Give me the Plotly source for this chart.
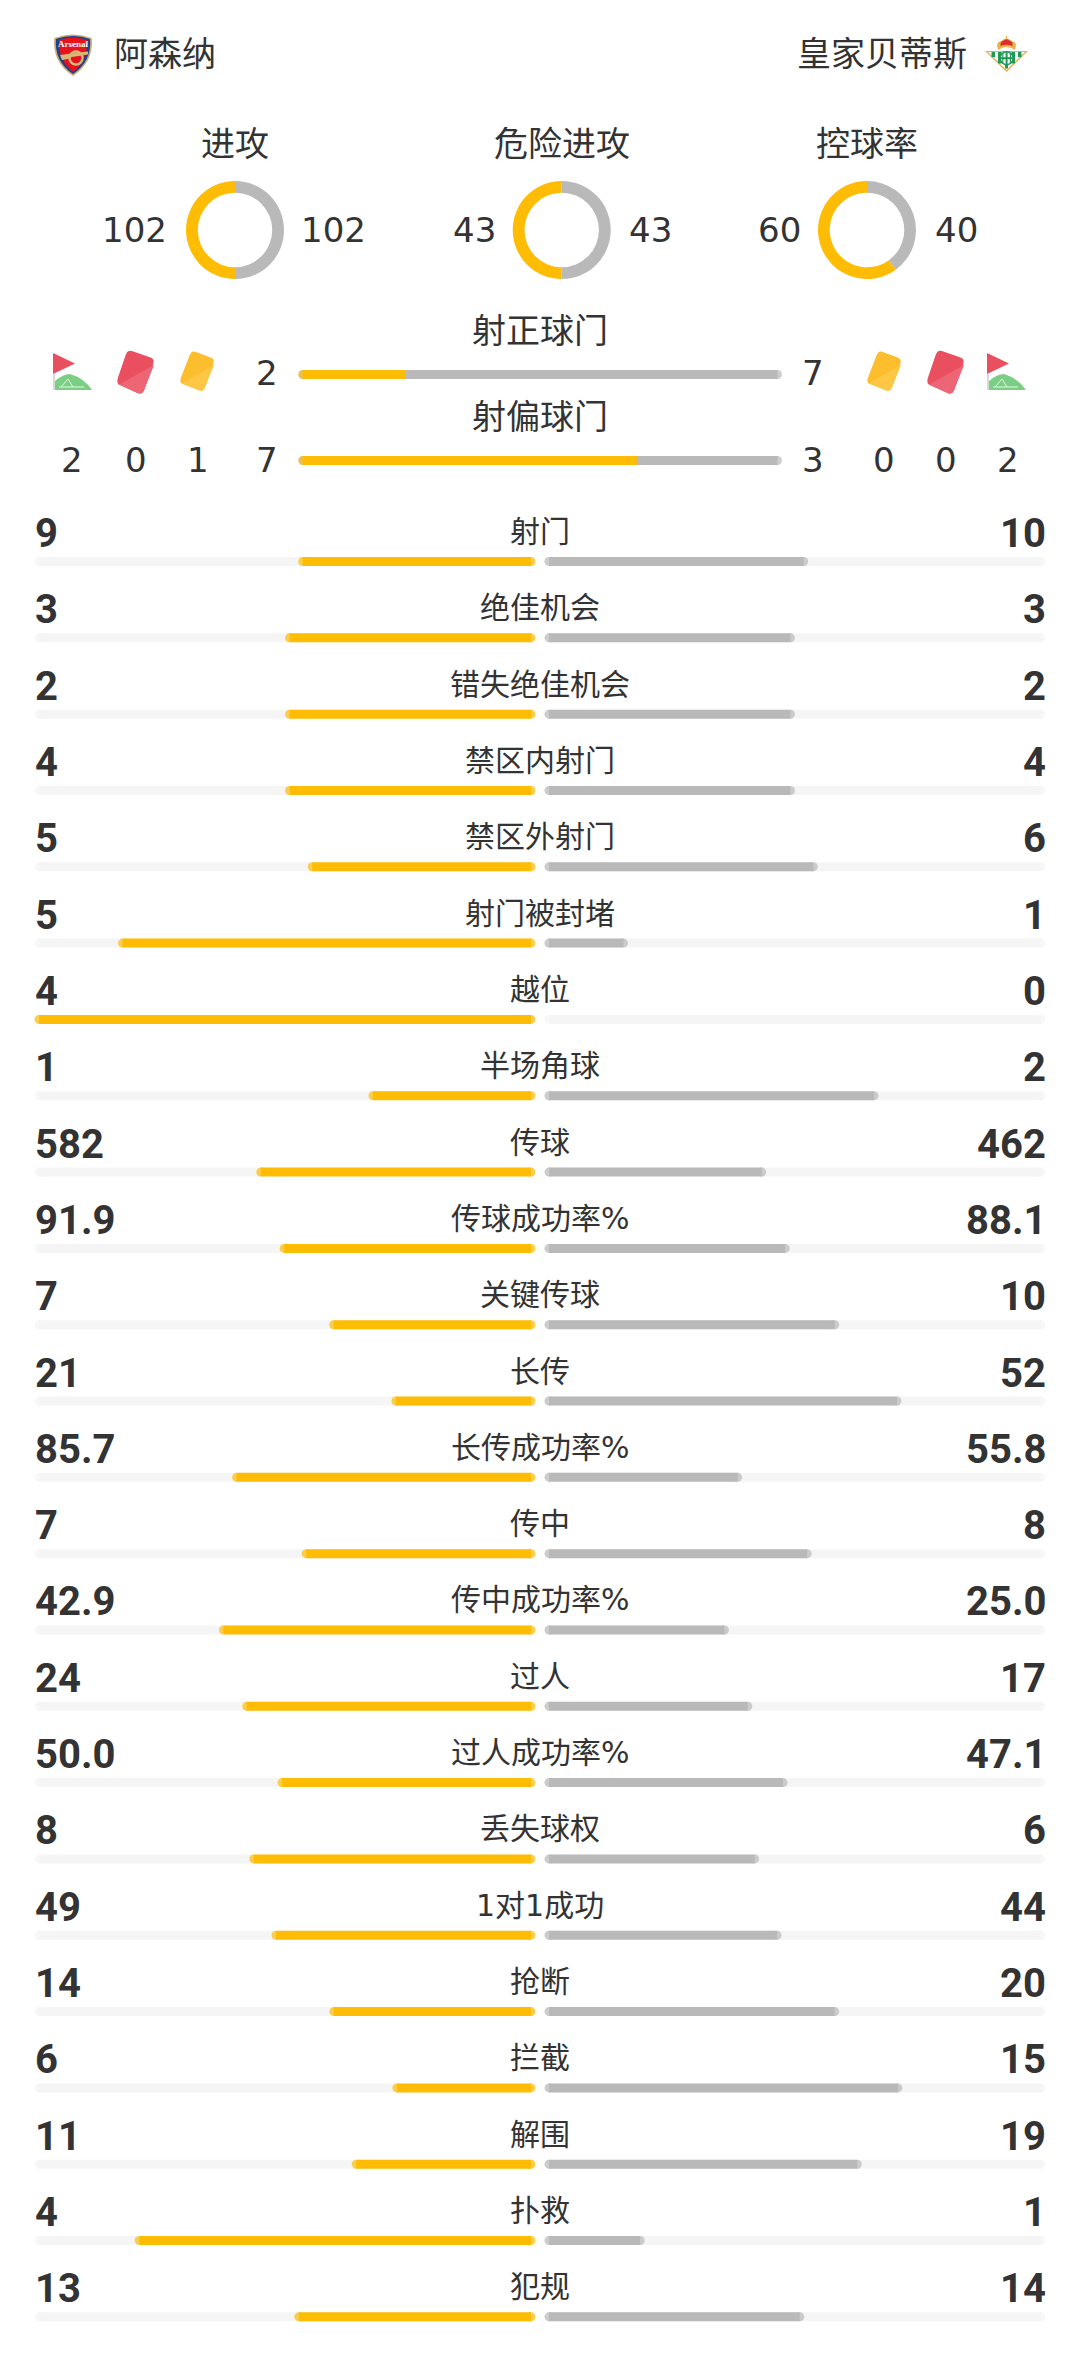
import plotly.graph_objects as go

# team names
home_name = "阿森纳"
away_name = "皇家贝蒂斯"

# donut stats
ring_names = ["进攻", "危险进攻", "控球率"]
ring_home = [102, 43, 60]
ring_away = [102, 43, 40]

# shots on / off target, long bars at the top
shot_names = ["射正球门", "射偏球门"]
shot_home = [2, 7]
shot_away = [7, 3]

# corners, red cards, yellow cards next to the off target row
card_home = [2, 0, 1]
card_away = [0, 0, 2]

# rows with two bars, kept as text because of 25.0 and 50.0
stat_names = ["射门", "绝佳机会", "错失绝佳机会", "禁区内射门", "禁区外射门", "射门被封堵", "越位", "半场角球",
              "传球", "传球成功率%", "关键传球", "长传", "长传成功率%", "传中", "传中成功率%", "过人",
              "过人成功率%", "丢失球权", "1对1成功", "抢断", "拦截", "解围", "扑救", "犯规"]
stat_home = ["9", "3", "2", "4", "5", "5", "4", "1", "582", "91.9", "7", "21", "85.7", "7", "42.9", "24",
             "50.0", "8", "49", "14", "6", "11", "4", "13"]
stat_away = ["10", "3", "2", "4", "6", "1", "0", "2", "462", "88.1", "10", "52", "55.8", "8", "25.0", "17",
             "47.1", "6", "44", "20", "15", "19", "1", "14"]

YELLOW = "#ffbc05"
GREY = "#b9b9b9"
TRACK = "#f5f5f5"
INK = "#333333"
TEXT_FONT = "DejaVu Sans, Noto Sans CJK SC"
NUM_FONT = "Roboto"
BAR_PX = 9

# the page has an 8px body margin, so the figure starts at 8,8
OFFSET = 8
WIDTH = 1080 - 2 * OFFSET
HEIGHT = 2379 - 2 * OFFSET


def fx(px):
    return (px - OFFSET) / WIDTH


def fy(px):
    return 1 - (px - OFFSET) / HEIGHT


def shares(a, b):
    return [x / (x + y) for x, y in zip(a, b)]


def pill(names, vals, axis_x, axis_y, color, cap, flat_end=False):
    # a thick line with a round dot on each end, so both ends of the bar are rounded
    xs, ys, sizes = [], [], []
    for name, v in zip(names, vals):
        if v <= 0:
            continue
        xs += [cap, v if flat_end else v - cap, None]
        ys += [name, name, None]
        sizes += [BAR_PX, 0 if flat_end else BAR_PX, 0]
    return go.Scatter(x=xs, y=ys, xaxis=axis_x, yaxis=axis_y, mode="lines+markers", cliponaxis=False,
                      line=dict(color=color, width=BAR_PX),
                      marker=dict(color=color, size=sizes, line_width=0), hoverinfo="skip")


home_num = [float(v) for v in stat_home]
away_num = [float(v) for v in stat_away]

fig = go.Figure()

# stat rows
stat_cap = BAR_PX / 2 / 501
full_row = [1] * len(stat_names)
fig.add_trace(pill(stat_names, full_row, "x", "y", TRACK, stat_cap))
fig.add_trace(pill(stat_names, full_row, "x2", "y", TRACK, stat_cap))
fig.add_trace(pill(stat_names, shares(home_num, away_num), "x", "y", YELLOW, stat_cap))
fig.add_trace(pill(stat_names, shares(away_num, home_num), "x2", "y", GREY, stat_cap))

# shots bars: grey full length, yellow with a square inner end
shot_cap = BAR_PX / 2 / 483.6
fig.add_trace(pill(shot_names, [1, 1], "x3", "y2", GREY, shot_cap))
fig.add_trace(pill(shot_names, shares(shot_home, shot_away), "x3", "y2", YELLOW, shot_cap, flat_end=True))

# donuts
ring_x = [235, 561.7, 867]
ring_y = 230
ring_r = 49
for name, h, a, cx in zip(ring_names, ring_home, ring_away, ring_x):
    fig.add_trace(go.Pie(values=[a, h], labels=["客队", "主队"], sort=False, direction="clockwise", rotation=0,
                         hole=0.76, textinfo="none", showlegend=False,
                         marker=dict(colors=[GREY, YELLOW], line_width=0),
                         domain=dict(x=[fx(cx - ring_r), fx(cx + ring_r)],
                                     y=[fy(ring_y + ring_r), fy(ring_y - ring_r)])))

anns = []


def px_text(x, y, text, size=34, anchor="center", font=TEXT_FONT, weight=400):
    anns.append(dict(x=x, y=y, xref="x4", yref="y4", text=text, showarrow=False, xanchor=anchor, yanchor="middle",
                     font=dict(family=font, size=size, color=INK, weight=weight)))


px_text(112, 54, home_name, anchor="left")
px_text(969, 54, away_name, anchor="right")

for name, h, a, cx, lx, rx in zip(ring_names, ring_home, ring_away, ring_x,
                                  [134, 474, 779.5], [333.6, 650, 956]):
    px_text(cx, 144, name)
    px_text(lx, 230, str(h))
    px_text(rx, 230, str(a))

px_text(540, 331, shot_names[0])
px_text(540, 417, shot_names[1])
px_text(267, 373, str(shot_home[0]))
px_text(813, 373, str(shot_away[0]))
px_text(267, 460, str(shot_home[1]))
px_text(813, 460, str(shot_away[1]))
for v, x in zip(card_home, [72, 136, 198]):
    px_text(x, 460, str(v))
for v, x in zip(card_away, [883.5, 945.5, 1007.5]):
    px_text(x, 460, str(v))

for name, h, a in zip(stat_names, stat_home, stat_away):
    anns.append(dict(x=540, y=name, xref="x4", yref="y", yshift=30, text=name, showarrow=False,
                     font=dict(family=TEXT_FONT, size=30, color=INK)))
    anns.append(dict(x=1, y=name, xref="x", yref="y", yshift=28, text=h, showarrow=False, xanchor="left",
                     xshift=-2, font=dict(family=NUM_FONT, size=40, color=INK, weight=700)))
    anns.append(dict(x=1, y=name, xref="x2", yref="y", yshift=28, text=a, showarrow=False, xanchor="right",
                     xshift=2, font=dict(family=NUM_FONT, size=40, color=INK, weight=700)))

# icons and crests
shapes = []


def poly(points, color):
    d = "M" + " L".join(f"{x},{y}" for x, y in points) + " Z"
    shapes.append(dict(type="path", xref="x4", yref="y4", path=d, fillcolor=color, line_width=0))


def raw(d, color):
    shapes.append(dict(type="path", xref="x4", yref="y4", path=d, fillcolor=color, line_width=0))


def disc(cx, cy, r, fill, edge=None, edge_w=0):
    shapes.append(dict(type="circle", xref="x4", yref="y4", x0=cx - r, x1=cx + r, y0=cy - r, y1=cy + r,
                       fillcolor=fill, line=dict(color=edge or fill, width=edge_w)))


def card(points, color, light):
    # four corners, rounded by cutting each one with a curve
    d = ""
    n = len(points)
    r = 0.16
    for i in range(n):
        p, c, q = points[i - 1], points[i], points[(i + 1) % n]
        a = (c[0] + (p[0] - c[0]) * r, c[1] + (p[1] - c[1]) * r)
        b = (c[0] + (q[0] - c[0]) * r, c[1] + (q[1] - c[1]) * r)
        d += ("M" if i == 0 else "L") + f"{a[0]},{a[1]} Q{c[0]},{c[1]} {b[0]},{b[1]} "
    raw(d + "Z", color)
    tr, br, bl = points[1], points[2], points[3]
    raw(f"M{tr[0] - 1},{tr[1] + 6} L{br[0] + 2},{br[1] - 6} Q{br[0]},{br[1]} {br[0] - 5},{br[1] - 2} "
        f"L{bl[0] + 3},{bl[1] + 1} Z", light)


def flag(dx):
    poly([(53 + dx, 374), (55 + dx, 374), (55 + dx, 390), (53 + dx, 390)], "#d9d9d9")
    poly([(53 + dx, 353), (75 + dx, 363.5), (53 + dx, 374)], "#e84f5f")
    raw(f"M{55 + dx},390 L{55 + dx},381 Q{63 + dx},374 {70 + dx},374 Q{84 + dx},378 {92 + dx},390 Z", "#7bcf85")
    shapes.append(dict(type="path", xref="x4", yref="y4", line=dict(color="#e6f6e8", width=1),
                       path=f"M{59 + dx},387 L{84 + dx},387 M{61 + dx},387 L{68 + dx},379 L{73 + dx},387"))


for dx in [0, 934]:
    flag(dx)
for dx in [0, 810]:
    card([(127.5 + dx, 349.5), (155 + dx, 359), (142.5 + dx, 395), (116 + dx, 383.5)], "#e94f5f", "#ec6676")
for dx in [0, 687]:
    card([(191.5 + dx, 350.5), (215 + dx, 359), (203.5 + dx, 392), (179 + dx, 382.5)], "#fdbe2e", "#fdc645")

# arsenal crest
raw("M54.3,38 Q73,31 91.7,38 Q94,62 73,76 Q52,62 54.3,38 Z", "#c9a96a")
raw("M56,39 Q73,33 90,39 Q92,61 73,74 Q54,61 56,39 Z", "#1f3f8f")
raw("M59,40 Q73,35 87,40 Q88,60 73,72 Q58,60 59,40 Z", "#e8121c")
disc(76, 58, 6.5, "rgba(0,0,0,0)", "#d9b877", 2.5)
raw("M60,55 L88,51.5 L88,54.5 L72,57 Q67,60 62,60 Z", "#d9b877")
anns.append(dict(x=73, y=43.5, xref="x4", yref="y4", text="Arsenal", showarrow=False,
                 font=dict(family="Liberation Serif", size=9, color="white", weight=700)))

# betis crest
raw("M985,51 L1028,51 L1006.5,72 Z", "#e8b24c")
raw("M988,52 L1025,52 L1006.5,70 Z", "white")
for x0, x1 in [(991.5, 995), (998, 1001.5), (1011.5, 1015), (1018, 1021.5)]:
    bottom = 70 - abs((x0 + x1) / 2 - 1006.5) * 0.97
    poly([(x0, 52), (x1, 52), (x1, bottom), (x0, bottom)], "#1f9a56")
poly([(1005, 64), (1008, 64), (1008, 68.5), (1005, 68.5)], "#1f9a56")
raw("M998,50 Q995,42 1001,41 Q1006.5,36 1012,41 Q1018,42 1015,50 Q1006.5,44 998,50 Z", "#e8b24c")
raw("M1000.5,46 Q1000,41.5 1003,41 Q1006.5,37.5 1010,41 Q1013,41.5 1012.5,46 Q1006.5,43.5 1000.5,46 Z", "#de2b2b")
poly([(1006, 36), (1007, 36), (1007, 39), (1006, 39)], "#e8b24c")
disc(1006.6, 58.2, 6.5, "white", "#1f9a56", 1.5)
poly([(1005.6, 52), (1007.6, 52), (1007.6, 64.5), (1005.6, 64.5)], "#1f9a56")
poly([(1000.5, 57.2), (1012.7, 57.2), (1012.7, 59.2), (1000.5, 59.2)], "#1f9a56")
poly([(1002.2, 53), (1003.4, 53), (1003.4, 63.4), (1002.2, 63.4)], "#1f9a56")
poly([(1009.8, 53), (1011, 53), (1011, 63.4), (1009.8, 63.4)], "#1f9a56")

hidden = dict(visible=False, fixedrange=True)
row_pitch = 76.32
first_row = 561.5
top_pitch = 86
top_first = 374.5

fig.update_layout(
    width=WIDTH,
    height=HEIGHT,
    margin=dict(l=0, r=0, t=0, b=0),
    paper_bgcolor="white",
    # the pixel axes cover the whole page, a filled background would hide the bars
    plot_bgcolor="rgba(0,0,0,0)",
    showlegend=False,
    annotations=anns,
    shapes=shapes,
    xaxis=dict(hidden, domain=[fx(34.5), fx(535.5)], range=[1, 0], anchor="y"),
    xaxis2=dict(hidden, domain=[fx(544.5), fx(1045.5)], range=[0, 1], anchor="y"),
    xaxis3=dict(hidden, domain=[fx(298.4), fx(782)], range=[0, 1], anchor="y2"),
    xaxis4=dict(hidden, domain=[0, 1], range=[OFFSET, OFFSET + WIDTH], anchor="y4"),
    yaxis=dict(hidden, type="category", categoryorder="array", categoryarray=stat_names,
               domain=[fy(first_row + 23.5 * row_pitch), fy(first_row - row_pitch / 2)],
               range=[23.5, -0.5], anchor="x"),
    yaxis2=dict(hidden, type="category", categoryorder="array", categoryarray=shot_names,
                domain=[fy(top_first + 1.5 * top_pitch), fy(top_first - top_pitch / 2)],
                range=[1.5, -0.5], anchor="x3"),
    yaxis4=dict(hidden, domain=[0, 1], range=[OFFSET + HEIGHT, OFFSET], anchor="x4"),
)

fig.write_html("out.html")
